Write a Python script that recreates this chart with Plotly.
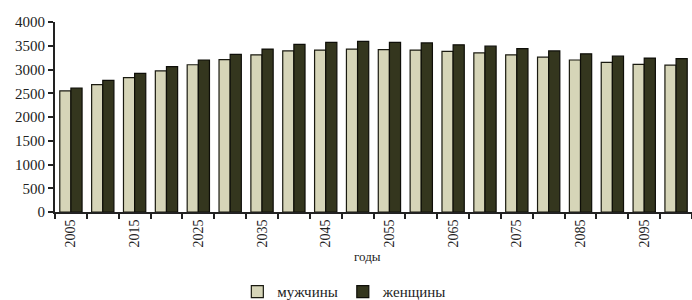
import plotly.graph_objects as go

years = list(range(2005, 2101, 5))
male = [2550, 2680, 2830, 2970, 3100, 3210, 3310, 3390, 3410, 3430,
        3420, 3410, 3380, 3350, 3310, 3260, 3200, 3150, 3110, 3090]
female = [2610, 2770, 2920, 3060, 3200, 3320, 3430, 3530, 3570, 3590,
          3570, 3560, 3520, 3490, 3440, 3390, 3330, 3280, 3240, 3230]
tick_years = list(range(2005, 2100, 10))

font_family = "Liberation Serif, Times New Roman, serif"

fig = go.Figure()
fig.add_trace(go.Bar(x=years, y=male, name="мужчины",
                     marker=dict(color="#d6d5b8", line=dict(color="#1a1a10", width=1.2))))
fig.add_trace(go.Bar(x=years, y=female, name="женщины",
                     marker=dict(color="#34361e", line=dict(color="#0e0e08", width=1.2))))

fig.add_annotation(text="годы", xref="paper", yref="paper", x=0.49, y=-0.232,
                   xanchor="center", yanchor="middle", showarrow=False,
                   font=dict(size=13, family=font_family, color="#222"))

fig.update_layout(
    width=692, height=300,
    margin=dict(l=55, r=0, t=22, b=88, autoexpand=False),
    paper_bgcolor="white", plot_bgcolor="white",
    barmode="group", bargap=0.3, bargroupgap=0,
    font=dict(family=font_family, color="#222", size=13),
    legend=dict(orientation="h", x=0.455, xanchor="center", y=-0.42, yanchor="middle",
                font=dict(size=15), itemwidth=30, traceorder="normal",
                tracegroupgap=0),
    xaxis=dict(
        range=[2002.5, 2102.5], automargin=False,
        tickmode="array", tickvals=tick_years, ticktext=[str(y) for y in tick_years],
        tickangle=-90, ticks="", tickfont=dict(size=14),
        showline=True, linecolor="#222", linewidth=2, showgrid=False, zeroline=False,
        minor=dict(tickmode="linear", tick0=2002.5, dtick=5, ticks="outside",
                   ticklen=5, tickcolor="#222", tickwidth=1.5, showgrid=False),
    ),
    yaxis=dict(
        range=[0, 4000], automargin=False, tickmode="linear", tick0=0, dtick=500,
        ticks="outside", ticklen=5, tickcolor="#222", tickwidth=1.5,
        tickfont=dict(size=15),
        showline=True, linecolor="#222", linewidth=2, showgrid=False, zeroline=False,
    ),
)

fig.write_html("out.html", config={"displayModeBar": False},
               post_script="document.body.style.margin='0';")
